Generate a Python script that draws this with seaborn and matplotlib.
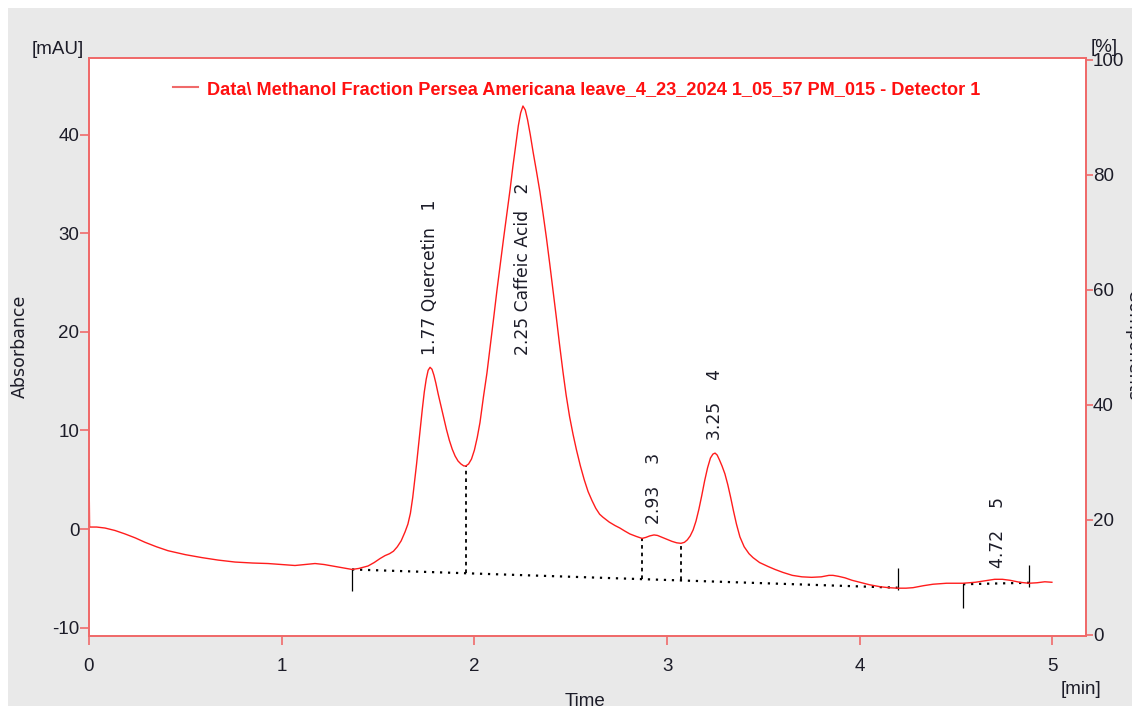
import numpy as np
import pandas as pd
import matplotlib
matplotlib.use("Agg")
import matplotlib.pyplot as plt
from matplotlib import font_manager as fm
from matplotlib.patches import Rectangle
import seaborn as sns

# ---------------- data ----------------
time_min = [0.000, 0.003, 0.040, 0.083, 0.135, 0.187, 0.240, 0.291, 0.350, 0.410,
            0.500, 0.586, 0.670, 0.758, 0.850, 0.929, 1.000, 1.069, 1.120, 1.173,
            1.220, 1.277, 1.320, 1.365, 1.400, 1.448, 1.480, 1.510, 1.536, 1.560,
            1.580, 1.600, 1.620, 1.640, 1.655, 1.668, 1.680, 1.690, 1.700, 1.710,
            1.720, 1.730, 1.740, 1.750, 1.760, 1.770, 1.780, 1.790, 1.800, 1.812,
            1.825, 1.840, 1.855, 1.870, 1.885, 1.900, 1.915, 1.930, 1.945, 1.956,
            1.970, 1.985, 2.000, 2.015, 2.029, 2.047, 2.065, 2.082, 2.100, 2.117,
            2.134, 2.151, 2.168, 2.185, 2.200, 2.215, 2.228, 2.240, 2.252, 2.264,
            2.276, 2.290, 2.305, 2.322, 2.340, 2.357, 2.374, 2.391, 2.408, 2.425,
            2.442, 2.460, 2.476, 2.494, 2.512, 2.530, 2.550, 2.570, 2.590, 2.610,
            2.630, 2.650, 2.667, 2.700, 2.730, 2.755, 2.780, 2.807, 2.840, 2.870,
            2.890, 2.910, 2.932, 2.950, 2.975, 3.000, 3.025, 3.050, 3.072, 3.090,
            3.105, 3.120, 3.135, 3.150, 3.165, 3.180, 3.195, 3.210, 3.225, 3.238,
            3.249, 3.260, 3.272, 3.285, 3.300, 3.315, 3.330, 3.345, 3.360, 3.378,
            3.400, 3.425, 3.446, 3.480, 3.524, 3.560, 3.601, 3.650, 3.700, 3.750,
            3.800, 3.840, 3.861, 3.890, 3.923, 3.960, 4.001, 4.050, 4.105, 4.150,
            4.196, 4.240, 4.276, 4.330, 4.380, 4.450, 4.536, 4.600, 4.650, 4.700,
            4.740, 4.780, 4.830, 4.878, 4.920, 4.960, 4.997]
absorbance = [6.0, 0.2, 0.2, 0.1, -0.15, -0.5, -0.9, -1.35, -1.8, -2.2,
              -2.6, -2.9, -3.15, -3.35, -3.45, -3.5, -3.6, -3.7, -3.6, -3.5,
              -3.6, -3.8, -3.95, -4.1, -4.0, -3.75, -3.4, -3.0, -2.7, -2.5,
              -2.25, -1.8, -1.2, -0.3, 0.5, 1.6, 3.2, 4.9, 6.6, 8.5,
              10.4, 12.2, 13.9, 15.2, 16.1, 16.4, 16.2, 15.6, 14.8, 13.7,
              12.6, 11.3, 10.1, 9.0, 8.1, 7.4, 6.9, 6.6, 6.4, 6.4,
              6.6, 7.1, 8.0, 9.3, 10.8, 13.4, 15.8, 18.5, 21.4, 24.2,
              26.8, 29.4, 31.9, 34.4, 36.8, 39.0, 40.9, 42.2, 42.9, 42.5,
              41.5, 40.0, 38.2, 36.3, 34.2, 31.9, 29.5, 26.9, 24.2, 21.5,
              18.7, 15.9, 13.6, 11.4, 9.6, 8.0, 6.4, 5.0, 3.8, 2.9,
              2.1, 1.5, 1.2, 0.7, 0.35, 0.1, -0.2, -0.5, -0.75, -0.95,
              -0.85, -0.7, -0.6, -0.65, -0.85, -1.05, -1.25, -1.4, -1.45, -1.35,
              -1.1, -0.7, -0.1, 0.8, 2.0, 3.4, 4.9, 6.2, 7.2, 7.6,
              7.7, 7.5, 7.0, 6.4, 5.6, 4.5, 3.2, 1.8, 0.5, -0.8,
              -1.8, -2.5, -2.9, -3.4, -3.8, -4.1, -4.4, -4.7, -4.85, -4.9,
              -4.85, -4.7, -4.7, -4.8, -4.95, -5.2, -5.4, -5.65, -5.85, -5.95,
              -6.0, -6.0, -5.95, -5.75, -5.6, -5.5, -5.5, -5.4, -5.25, -5.1,
              -5.1, -5.2, -5.4, -5.5, -5.45, -5.35, -5.4]

peak_labels = ["1.77 Quercetin   1", "2.25 Caffeic Acid   2", "2.93    3", "3.25    4", "4.72    5"]
label_t = [1.770, 2.252, 2.932, 3.249, 4.717]
label_y = [17.6, 17.6, 0.5, 9.0, -4.0]

baseline1_t = [1.365, 4.196]
baseline1_y = [-4.1, -5.95]
baseline2_t = [4.536, 4.878]
baseline2_y = [-5.6, -5.45]

drop_t = [1.956, 2.870, 3.072]
drop_top = [6.4, -0.95, -1.45]

marker_t = [1.365, 4.196, 4.536, 4.878]
marker_lo = [-6.3, -6.2, -8.0, -5.9]
marker_hi = [-4.1, -4.0, -5.6, -3.65]

x_ticks = [0, 1, 2, 3, 4, 5]
y_ticks = [-10, 0, 10, 20, 30, 40]
pct_ticks = [0, 20, 40, 60, 80, 100]

legend_label = "Data\\ Methanol Fraction Persea Americana leave_4_23_2024 1_05_57 PM_015 - Detector 1"

# ---------------- styling ----------------
names = {f.name for f in fm.fontManager.ttflist}
NARROW = "Liberation Sans Narrow" if "Liberation Sans Narrow" in names else "Liberation Sans"
plt.rcParams["font.family"] = ["DejaVu Sans"]
plt.rcParams["axes.unicode_minus"] = False

LINE_RED = "#ff1c1c"
SPINE_RED = "#f06a6a"
TXT = "#1c1c28"
BG = "#e9e9e9"

W, H = 1132, 706
fig = plt.figure(figsize=(W / 100, H / 100), dpi=100, facecolor="white")
fig.patches.append(Rectangle((8 / W, 0), 1, 1 - 8 / H, transform=fig.transFigure,
                             facecolor=BG, edgecolor="none", zorder=-10))

ax = fig.add_axes([89 / W, 1 - 636 / H, (1086 - 89) / W, (636 - 58) / H])
ax.set_facecolor("white")

df = pd.DataFrame({"Time": time_min, "Absorbance": absorbance})
sns.lineplot(data=df, x="Time", y="Absorbance", ax=ax, color=LINE_RED, lw=1.0,
             estimator=None, sort=False, label=legend_label, zorder=3)

# baselines
sns.lineplot(x=baseline1_t, y=baseline1_y, ax=ax, color="black", lw=1.6,
             linestyle=(0, (1, 2.6)), estimator=None, legend=False, zorder=2)
sns.lineplot(x=baseline2_t, y=baseline2_y, ax=ax, color="black", lw=1.6,
             linestyle=(0, (1, 2.6)), estimator=None, legend=False, zorder=2)
# drop lines
drop_bottom = np.interp(drop_t, baseline1_t, baseline1_y)
ax.vlines(drop_t, drop_bottom, drop_top, colors="black", lw=1.3,
          linestyles=[(0, (2, 2.2))], zorder=2)
# peak start / end markers
ax.vlines(marker_t, marker_lo, marker_hi, colors="black", lw=0.9, zorder=2)

# peak labels
for t, yv, s in zip(label_t, label_y, peak_labels):
    ax.text(t, yv, s, rotation=90, ha="center", va="bottom", fontsize=12.3,
            color=TXT, family="DejaVu Sans")

ax.set_xlim(0, 5.174)
ax.set_ylim(-10.85, 47.77)
ax.set_xticks(x_ticks)
ax.set_yticks(y_ticks)
ax.set_xlabel("")
ax.set_ylabel("")
for sp in ax.spines.values():
    sp.set_color(SPINE_RED)
    sp.set_linewidth(1.3)
ax.tick_params(axis="y", direction="out", length=6.5, width=1.2, color=SPINE_RED,
               pad=0.5, labelsize=13.5, labelcolor=TXT)
ax.tick_params(axis="x", direction="out", length=6.5, width=1.2, color=SPINE_RED,
               pad=9, labelsize=13.5, labelcolor=TXT)
for lb in ax.get_xticklabels() + ax.get_yticklabels():
    lb.set_family(NARROW)

ax2 = ax.twinx()
ax2.set_ylim(-0.2, 100.3)
ax2.set_yticks(pct_ticks)
ax2.tick_params(axis="y", direction="out", length=5, width=1.2, color=SPINE_RED,
                pad=0, labelsize=13.5, labelcolor=TXT)
for lb in ax2.get_yticklabels():
    lb.set_family(NARROW)
for sp in ax2.spines.values():
    sp.set_color(SPINE_RED)
    sp.set_linewidth(1.3)

# legend
leg = ax.legend(loc="center left", bbox_to_anchor=((173 - 89) / (1086 - 89), (636 - 89) / (636 - 58)),
                frameon=False, handlelength=1.2, handletextpad=0.45, borderpad=0,
                borderaxespad=0, prop={"family": NARROW, "weight": "bold", "size": 15})
for txt in leg.get_texts():
    txt.set_color("#ff1010")
for h in leg.get_lines():
    h.set_color(SPINE_RED)
    h.set_linewidth(1.5)
fig.canvas.draw()
r = fig.canvas.get_renderer()
tw = leg.get_texts()[0].get_window_extent(r).width
leg.get_texts()[0].set_fontsize(15 * 775 / tw)

# axis captions
fig.text(58 / W, 1 - 50 / H, "[mAU]", ha="center", va="center", fontsize=13.5,
         family=NARROW, color=TXT)
fig.text(1104 / W, 1 - 48 / H, "[%]", ha="center", va="center", fontsize=13.5,
         family=NARROW, color=TXT)
fig.text(1081 / W, 1 - 689 / H, "[min]", ha="center", va="center", fontsize=13.5,
         family=NARROW, color=TXT)
fig.text(585 / W, 1 - 701 / H, "Time", ha="center", va="center", fontsize=13.5,
         family=NARROW, color=TXT)
fig.text(20 / W, 1 - 346 / H, "Absorbance", ha="center", va="center", rotation=90,
         fontsize=12.5, color=TXT)
fig.text(1133 / W, 1 - 345 / H, "Components", ha="center", va="center", rotation=270,
         fontsize=12.5, color=TXT)

fig.savefig("out.png", dpi=100, facecolor=fig.get_facecolor())
